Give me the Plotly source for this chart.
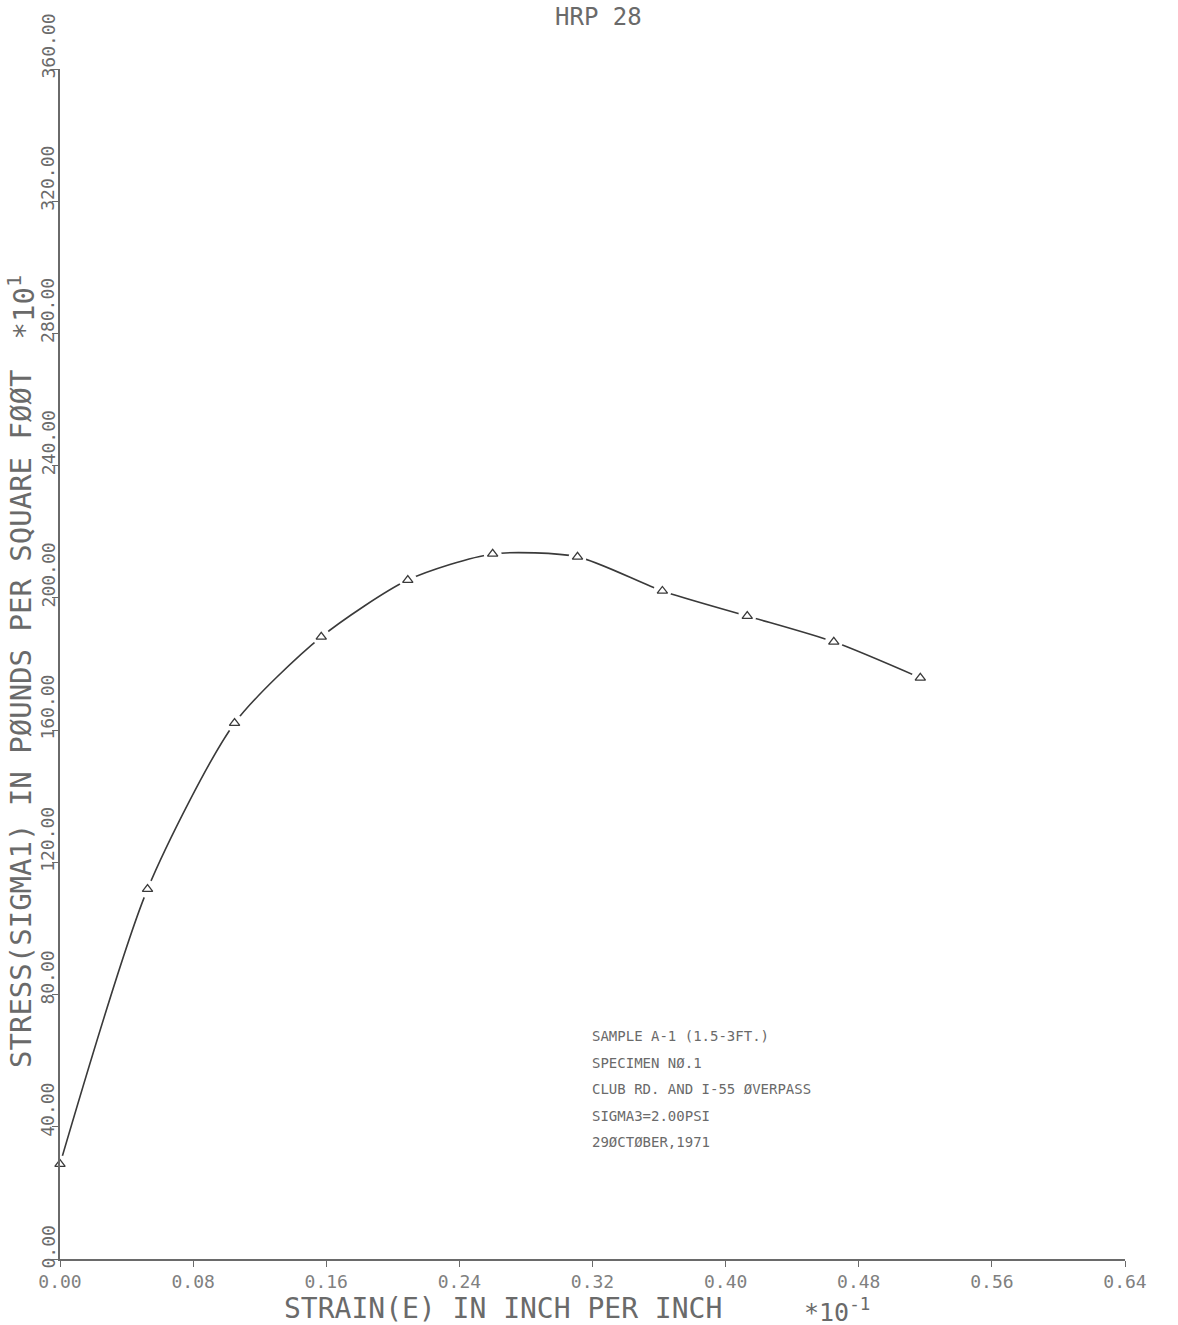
import plotly.graph_objects as go

# Triaxial test: deviator stress vs. axial strain
strain = [0.0, 0.0526, 0.1049, 0.157, 0.209, 0.260, 0.311, 0.362, 0.413, 0.465, 0.517]   # x 10^-1 in/in
stress = [28.7, 111.9, 162.1, 188.2, 205.4, 213.3, 212.4, 202.1, 194.5, 186.7, 175.8]    # x 10^1 psf

x_ticks = [0.0, 0.08, 0.16, 0.24, 0.32, 0.40, 0.48, 0.56, 0.64]
x_tick_text = ["0.00", "0.08", "0.16", "0.24", "0.32", "0.40", "0.48", "0.56", "0.64"]
y_ticks = [0, 40, 80, 120, 160, 200, 240, 280, 320, 360]
y_tick_text = ["0.00", "40.00", "80.00", "120.00", "160.00", "200.00",
               "240.00", "280.00", "320.00", "360.00"]

notes = [
    "SAMPLE A-1 (1.5-3FT.)",
    "SPECIMEN NØ.1",
    "CLUB RD. AND I-55 ØVERPASS",
    "SIGMA3=2.00PSI",
    "29ØCTØBER,1971",
]

W, H = 1178, 1325
ML, MR, MT, MB = 60, 53, 69, 66
PW, PH = W - ML - MR, H - MT - MB

FONT = "DejaVu Sans Mono"
INK = "#3a3a3a"
GREY = "#6a6a6a"


def py_to_paper(py):
    return (H - MB - py) / PH


def px_to_paper(px):
    return (px - ML) / PW


fig = go.Figure()

# smooth curve through the test points
fig.add_trace(go.Scatter(
    x=strain, y=stress, mode="lines",
    line=dict(color=INK, width=1.6, shape="spline", smoothing=0.7),
    hoverinfo="skip", showlegend=False,
))
# small clearing around each point, then the triangle symbol
fig.add_trace(go.Scatter(
    x=strain, y=stress, mode="markers",
    marker=dict(symbol="circle", size=18, color="white", line=dict(width=0)),
    hoverinfo="skip", showlegend=False,
))
fig.add_trace(go.Scatter(
    x=strain, y=stress, mode="markers", cliponaxis=False,
    marker=dict(symbol="triangle-up-open", size=9, color=INK, line=dict(width=1.3, color=INK)),
    showlegend=False,
))

annotations = []

# rotated y tick labels that start at their tick
for v, t in zip(y_ticks, y_tick_text):
    annotations.append(dict(
        xref="paper", yref="y", x=0, y=v, xshift=-12, yshift=-12,
        text=t, textangle=-90, showarrow=False,
        xanchor="center", yanchor="bottom",
        font=dict(family=FONT, size=18, color=GREY),
    ))

# y axis title
annotations.append(dict(
    xref="paper", yref="paper", x=0, xshift=-39, y=py_to_paper(1070),
    text="STRESS(SIGMA1) IN PØUNDS PER SQUARE FØØT", textangle=-90, showarrow=False,
    xanchor="center", yanchor="bottom",
    font=dict(family=FONT, size=29, color=GREY),
))
annotations.append(dict(
    xref="paper", yref="paper", x=0, xshift=-38, y=py_to_paper(342),
    text="*10<sup>1</sup>", textangle=-90, showarrow=False,
    xanchor="center", yanchor="bottom",
    font=dict(family=FONT, size=29, color=GREY),
))

# x axis title
annotations.append(dict(
    xref="paper", yref="paper", x=px_to_paper(282), y=py_to_paper(H), yshift=-2,
    text="STRAIN(E) IN INCH PER INCH", showarrow=False,
    xanchor="left", yanchor="bottom",
    font=dict(family=FONT, size=28, color=GREY),
))
annotations.append(dict(
    xref="paper", yref="paper", x=px_to_paper(802), y=py_to_paper(H), yshift=-4,
    text="*10<sup>-1</sup>", showarrow=False,
    xanchor="left", yanchor="bottom",
    font=dict(family=FONT, size=25, color=GREY),
))

# plot title
annotations.append(dict(
    xref="paper", yref="paper", x=px_to_paper(598), y=py_to_paper(0), yshift=-1,
    text="HRP 28", showarrow=False, xanchor="center", yanchor="top",
    font=dict(family=FONT, size=24, color=GREY),
))

# sample information block
for i, line in enumerate(notes):
    annotations.append(dict(
        xref="paper", yref="paper", x=px_to_paper(590), y=py_to_paper(1036 + 26.5 * i),
        text=line, showarrow=False, xanchor="left", yanchor="middle",
        font=dict(family=FONT, size=14, color=GREY),
    ))

fig.update_layout(
    width=W, height=H,
    margin=dict(l=ML, r=MR, t=MT, b=MB, pad=0),
    paper_bgcolor="white", plot_bgcolor="white",
    annotations=annotations,
    xaxis=dict(
        range=[0, 0.64], showgrid=False, zeroline=False,
        showline=True, linecolor=GREY, linewidth=1.5,
        ticks="outside", ticklen=6, tickwidth=1.3, tickcolor=GREY,
        tickvals=x_ticks, ticktext=x_tick_text,
        tickfont=dict(family=FONT, size=18, color="#808080"),
    ),
    yaxis=dict(
        range=[0, 360], showgrid=False, zeroline=False,
        showline=True, linecolor=GREY, linewidth=1.5,
        ticks="outside", ticklen=6, tickwidth=1.3, tickcolor=GREY,
        tickvals=y_ticks, showticklabels=False,
    ),
    showlegend=False,
)

fig.write_html("out.html")
